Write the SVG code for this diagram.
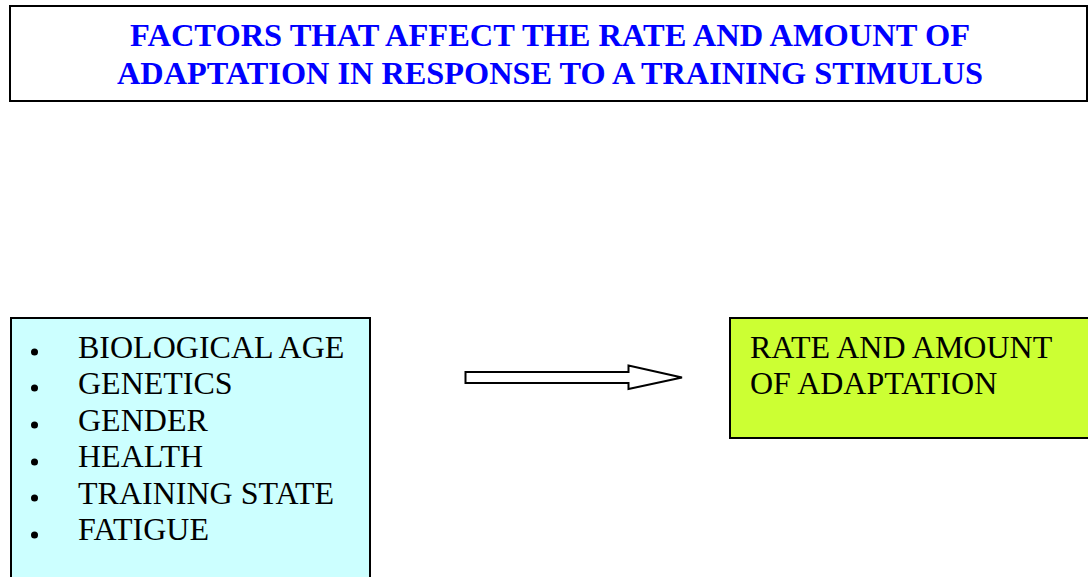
<svg xmlns="http://www.w3.org/2000/svg" width="1088" height="577" viewBox="0 0 1088 577">
<style>
.box{stroke:#000;stroke-width:2}
.t{font-family:"Liberation Serif","Times New Roman",serif;font-size:32px;fill:#000}
.title{font-family:"Liberation Serif","Times New Roman",serif;font-size:32px;font-weight:bold;fill:#0000FF;text-anchor:middle}
</style>
<rect width="1088" height="577" fill="#fff"/>
<g id="title">
<rect class="box" x="10" y="6" width="1077" height="95" fill="#fff"/>
<text class="title" x="550" y="46" textLength="840" lengthAdjust="spacingAndGlyphs">FACTORS THAT AFFECT THE RATE AND AMOUNT OF</text>
<text class="title" x="550" y="84" textLength="866" lengthAdjust="spacingAndGlyphs">ADAPTATION IN RESPONSE TO A TRAINING STIMULUS</text>
</g>
<g id="factors">
<rect class="box" x="11" y="318" width="359" height="270" fill="#CCFFFF"/>
<g fill="#000">
<circle cx="34.5" cy="352" r="3.5"/>
<circle cx="34.5" cy="388" r="3.5"/>
<circle cx="34.5" cy="425" r="3.5"/>
<circle cx="34.5" cy="462" r="3.5"/>
<circle cx="34.5" cy="498" r="3.5"/>
<circle cx="34.5" cy="535" r="3.5"/>
</g>
<text class="t" x="78" y="358">BIOLOGICAL AGE</text>
<text class="t" x="78" y="394">GENETICS</text>
<text class="t" x="78" y="431">GENDER</text>
<text class="t" x="78" y="467">HEALTH</text>
<text class="t" x="78" y="504">TRAINING STATE</text>
<text class="t" x="78" y="540">FATIGUE</text>
</g>
<g id="result">
<rect class="box" x="730" y="318" width="370" height="120" fill="#CCFF33"/>
<text class="t" x="750" y="358">RATE AND AMOUNT</text>
<text class="t" x="750" y="394">OF ADAPTATION</text>
</g>
<g id="connectors">
<polygon points="465.5,372 628.5,372 628.5,365.5 682,377.5 628.5,389 628.5,383 465.5,383" fill="#fff" stroke="#000" stroke-width="2"/>
</g>
</svg>
